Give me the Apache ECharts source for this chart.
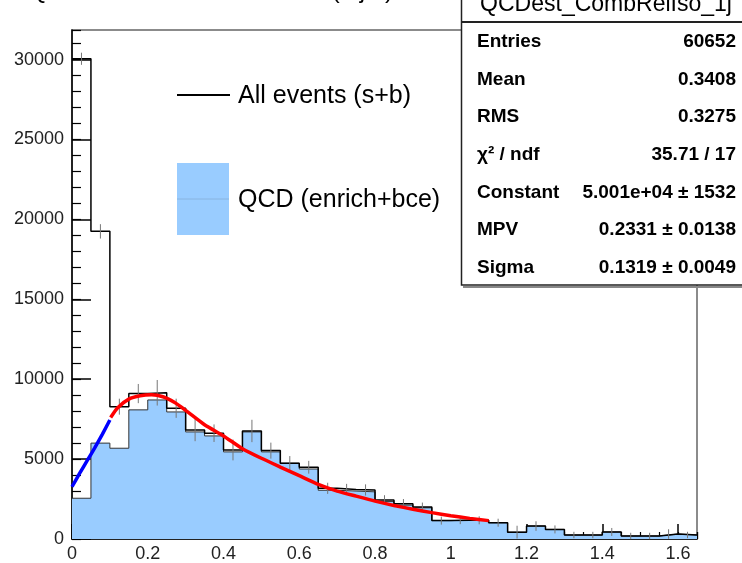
<!DOCTYPE html>
<html>
<head>
<meta charset="utf-8">
<script src="https://cdn.jsdelivr.net/npm/echarts@6/dist/echarts.min.js"></script>
<style>html,body{margin:0;padding:0;background:#fff}#c{width:742px;height:563px}</style>
</head>
<body>
<div id="c"></div>
<script>
// ---- data ----
const binLow = [0,0.05,0.1,0.15,0.2,0.25,0.3,0.35,0.4,0.45,0.5,0.55,0.6,0.65,0.7,0.75,0.8,0.85,0.9,0.95,1.0,1.05,1.1,1.15,1.2,1.25,1.3,1.35,1.4,1.45,1.5,1.55,1.6];
const binWidth = 0.05;
const allEvents = [30050,19250,8280,9100,9150,8180,6820,6620,5570,6760,5530,4740,4490,3170,3100,3070,2440,2200,2000,1150,1180,1170,1020,430,810,600,250,250,440,190,190,310,250];
const qcd = [2550,6000,5680,8080,8700,7950,6700,6450,5450,6700,5450,4740,4380,3050,3000,2950,2350,2120,1950,1150,1180,1170,1020,430,810,600,250,250,440,190,190,310,250];
const allErr = [380,450,500,600,800,600,700,550,650,700,500,450,400,350,350,350,300,300,280,250,250,250,250,400,300,250,200,200,250,200,200,300,200];
const fitRedX = [0.102,0.12,0.15,0.18,0.21,0.24,0.27,0.30,0.35,0.40,0.45,0.50,0.55,0.60,0.65,0.70,0.75,0.80,0.85,0.90,0.95,1.00,1.05,1.10];
const fitRedY = [7600,8200,8750,8960,9020,8900,8550,8050,7150,6450,5650,5050,4500,3960,3420,3000,2680,2370,2100,1860,1650,1460,1290,1150];
const fitBlueX = [0,0.02,0.04,0.06,0.08,0.1];
const fitBlueY = [3270,4100,4900,5700,6550,7450];
const xTicks = ['0','0.2','0.4','0.6','0.8','1','1.2','1.4','1.6'];
const statsLabels = ['Entries','Mean','RMS','\u03C7\u00B2 / ndf','Constant','MPV','Sigma'];
const statsValues = ['60652','0.3408','0.3275','35.71 / 17','5.001e+04 \u00B1 1532','0.2331 \u00B1 0.0138','0.1319 \u00B1 0.0049'];
const statsTitle = 'QCDest_CombRelIso_1j';
const legendLabels = ['All events (s+b)','QCD (enrich+bce)'];
const plotTitle = 'QCD estimate: CombRelIso (1 jet)';

const xMax = binLow[binLow.length-1] + binWidth;
function stepData(vals){
  const d = binLow.map((x,i)=>[x, vals[i]]);
  d.push([xMax, vals[vals.length-1]]);
  return d;
}
const FONT = "'Liberation Sans', Arial, sans-serif";

const chart = echarts.init(document.getElementById('c'), null, {renderer:'canvas'});
const gridL = 72, gridT = 30, gridR = 45, gridB = 24;

const statsEls = [];
statsEls.push({type:'rect', shape:{x:461.5,y:-10,width:290,height:295}, style:{fill:'#fff', stroke:'#222', lineWidth:1.5}, z:100});
statsEls.push({type:'line', shape:{x1:463,y1:287,x2:742,y2:287}, style:{stroke:'#888', lineWidth:2}, z:100});
statsEls.push({type:'line', shape:{x1:461,y1:22,x2:742,y2:22}, style:{stroke:'#222', lineWidth:2}, z:101});
statsEls.push({type:'text', x:606, y:5, style:{text:statsTitle, font:'23px '+FONT, fill:'#000', textAlign:'center', textVerticalAlign:'middle'}, z:101});
statsLabels.forEach((t,i)=>{
  const y = 42 + i*37.6;
  statsEls.push({type:'text', x:477, y:y, style:{text:t, font:'bold 19px '+FONT, fill:'#000', textAlign:'left', textVerticalAlign:'middle'}, z:101});
  statsEls.push({type:'text', x:736, y:y, style:{text:statsValues[i], font:'bold 19px '+FONT, fill:'#000', textAlign:'right', textVerticalAlign:'middle'}, z:101});
});

const legendEls = [
  {type:'line', shape:{x1:177,y1:95,x2:230,y2:95}, style:{stroke:'#000', lineWidth:2}, z:50},
  {type:'text', x:238, y:96, style:{text:legendLabels[0], font:'25px '+FONT, fill:'#000', textAlign:'left', textVerticalAlign:'middle'}, z:50},
  {type:'rect', shape:{x:177,y:163,width:52,height:72}, style:{fill:'#99ccff'}, z:50},
  {type:'line', shape:{x1:177,y1:199,x2:229,y2:199}, style:{stroke:'#88b4e0', lineWidth:1}, z:51},
  {type:'text', x:238, y:200, style:{text:legendLabels[1], font:'25px '+FONT, fill:'#000', textAlign:'left', textVerticalAlign:'middle'}, z:50},
  {type:'text', x:393, y:-9, style:{text:plotTitle, font:'24px '+FONT, fill:'#000', textAlign:'right', textVerticalAlign:'middle'}, z:50}
];

const option = {
  animation:false,
  backgroundColor:'#fff',
  grid:{left:gridL, top:gridT, right:gridR, bottom:gridB, show:true, borderColor:'#666', borderWidth:1.5, backgroundColor:'transparent'},
  xAxis:[
    {type:'value', min:0, max:xMax, interval:0.2, position:'bottom',
     axisLine:{show:true, onZero:false, lineStyle:{color:'#000', width:1.5}},
     axisTick:{show:true, inside:true, length:15, lineStyle:{color:'#000', width:1.5}},
     axisLabel:{show:true, margin:6, showMaxLabel:false, color:'#222', fontSize:18, fontFamily:FONT,
       formatter:(v)=>{ const s = xTicks.find(t=>Math.abs(parseFloat(t)-v)<1e-6); return s===undefined?'':s; }},
     splitLine:{show:false}},
    {type:'value', min:0, max:xMax, interval:0.05, position:'bottom',
     axisLine:{show:false}, axisLabel:{show:false}, splitLine:{show:false},
     axisTick:{show:true, inside:true, length:7, lineStyle:{color:'#000', width:1.2}}}
  ],
  yAxis:[
    {type:'value', min:0, max:31850, interval:5000, position:'left',
     axisLine:{show:true, onZero:false, lineStyle:{color:'#000', width:1.5}},
     axisTick:{show:true, inside:true, length:19, lineStyle:{color:'#000', width:1.5}},
     axisLabel:{show:true, margin:8, showMaxLabel:false, color:'#222', fontSize:18, fontFamily:FONT,
       formatter:(v)=>String(Math.round(v))},
     splitLine:{show:false}},
    {type:'value', min:0, max:31850, interval:1000, position:'left',
     axisLine:{show:false}, axisLabel:{show:false}, splitLine:{show:false},
     axisTick:{show:true, inside:true, length:9, lineStyle:{color:'#000', width:1.2}}}
  ],
  series:[
    {type:'line', name:legendLabels[1], data:stepData(qcd), step:'end', showSymbol:false, symbol:'none',
     lineStyle:{color:'#333', width:1}, areaStyle:{color:'#99ccff', opacity:1, origin:'start'}, z:1},
    {type:'line', name:legendLabels[0], data:stepData(allEvents), step:'end', showSymbol:false, symbol:'none',
     lineStyle:{color:'#000', width:1.5}, z:2},
    {type:'custom', name:'errors', z:3,
     data: binLow.map((x,i)=>[x+binWidth/2, allEvents[i], allErr[i]]),
     renderItem:(params, api)=>{
       const x = api.value(0), y = api.value(1), e = api.value(2);
       const p1 = api.coord([x, y-e]), p2 = api.coord([x, y+e]);
       return {type:'line', shape:{x1:p1[0],y1:p1[1],x2:p2[0],y2:p2[1]}, style:{stroke:'#777', lineWidth:1}};
     }},
    {type:'line', name:'fitRed', data:fitRedX.map((x,i)=>[x, fitRedY[i]]), smooth:0.2, showSymbol:false, symbol:'none',
     lineStyle:{color:'#ff0000', width:3.5}, z:5},
    {type:'line', name:'fitBlue', data:fitBlueX.map((x,i)=>[x, fitBlueY[i]]), smooth:0.2, showSymbol:false, symbol:'none',
     lineStyle:{color:'#0000ff', width:3.5}, z:5}
  ],
  graphic:[...legendEls, ...statsEls]
};
chart.setOption(option);
</script>
</body>
</html>
